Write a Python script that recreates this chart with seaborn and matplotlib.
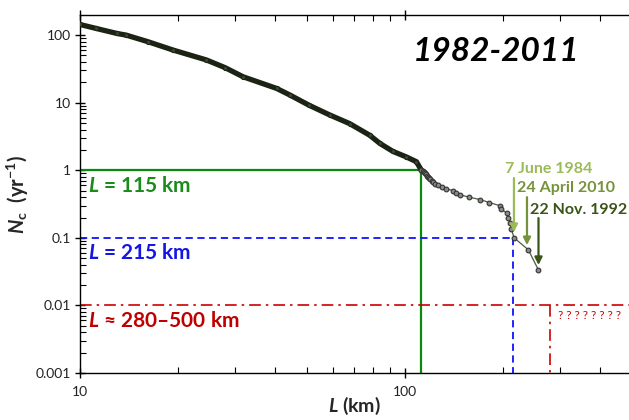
import numpy as np
import pandas as pd
import matplotlib
matplotlib.use("Agg")
import matplotlib.pyplot as plt
import matplotlib.ticker as mticker
import seaborn as sns

# --------------------------------------------
# data
# --------------------------------------------
# dense part of the curve (L in km, Nc in 1/yr)
L_main = [10, 11.2, 13.0, 13.9, 16.2, 19.4, 24.5, 28.0, 31.8, 40.3, 44.3,
          50.7, 58.7, 67.7, 78.0, 83.8, 92.0, 101, 108.6, 112.5]
N_main = [144, 126, 106, 100, 80, 60, 43, 33, 24.2, 16.3, 13.0,
          9.2, 6.6, 4.9, 3.3, 2.5, 1.9, 1.58, 1.34, 1.0]

# tail: the 30 largest events
L_tail = [112.5, 113.5, 114.3, 115.2, 116, 117, 117.8, 119, 120, 121.2,
          122.5, 124, 126.5, 130, 134, 141, 144, 148, 158, 171,
          182, 196, 198, 206, 208, 211, 213, 217, 240, 258]
N_tail = [1.0, 0.967, 0.933, 0.9, 0.867, 0.833, 0.8, 0.767, 0.733, 0.7,
          0.667, 0.633, 0.6, 0.567, 0.533, 0.5, 0.467, 0.433, 0.4, 0.367,
          0.333, 0.3, 0.267, 0.233, 0.2, 0.167, 0.133, 0.1, 0.0667, 0.0333]

# threshold lines
L_green, N_green = 112, 1.0
L_blue, N_blue = 215, 0.1
L_red, N_red = 280, 0.01

# dated events (arrow x, arrow top, arrow tip, label x, label y)
events = ["7 June 1984", "24 April 2010", "22 Nov. 1992"]
event_colors = ["#9bbb59", "#76923c", "#3b5417"]
arrow_L = [216.8, 237.8, 258]
arrow_top = [0.767, 0.40, 0.196]
arrow_tip = [0.122, 0.078, 0.0396]
label_L = [203, 221, 242.5]
label_N = [1.04, 0.546, 0.258]

y_ticks = [0.001, 0.01, 0.1, 1, 10, 100]
y_ticklabels = ["0.001", "0.01", "0.1", "1", "10", "100"]
x_ticks = [10, 100]
x_ticklabels = ["10", "100"]

# --------------------------------------------
# style
# --------------------------------------------
sns.set_style("ticks")
plt.rcParams["font.family"] = ["Lato", "DejaVu Sans"]
plt.rcParams["mathtext.fontset"] = "custom"
plt.rcParams["mathtext.it"] = "Lato:italic:bold"
plt.rcParams["mathtext.rm"] = "Lato:bold"
plt.rcParams["mathtext.bf"] = "Lato:bold"

fig = plt.figure(figsize=(6.29, 4.2), dpi=100)
ax = fig.add_axes([0.127, 0.112, 0.873, 0.852])

df_main = pd.DataFrame({"L": L_main, "N": N_main})
df_tail = pd.DataFrame({"L": L_tail, "N": N_tail})

# threshold lines
ax.plot([10, L_green], [N_green, N_green], color="#0a8a0a", lw=1.6, zorder=2)
ax.plot([L_green, L_green], [N_green, 0.001], color="#0a8a0a", lw=1.6, zorder=2)
ax.plot([10, L_blue], [N_blue, N_blue], color="#1010ff", lw=1.3,
        dashes=(4, 2.5), zorder=2)
ax.plot([L_blue, L_blue], [N_blue, 0.001], color="#1010ff", lw=1.3,
        dashes=(4, 2.5), zorder=2)
ax.plot([10, 600], [N_red, N_red], color="#cc0000", lw=1.2,
        dashes=(7, 3, 1.5, 3), zorder=2)
ax.plot([L_red, L_red], [N_red, 0.001], color="#cc0000", lw=1.2,
        dashes=(7, 3, 1.5, 3), zorder=2)

# curve
sns.lineplot(data=df_main, x="L", y="N", ax=ax, color="#1b2414", lw=3.8,
             sort=False, estimator=None, solid_capstyle="round", zorder=3)
sns.lineplot(data=df_main, x="L", y="N", ax=ax, color="#2d3a22", lw=0,
             marker="o", markersize=3.0, markerfacecolor="#3c4634",
             markeredgecolor="#1b2414", sort=False, estimator=None, zorder=4)
sns.lineplot(data=df_tail, x="L", y="N", ax=ax, color="#4b5e3a", lw=0.9,
             marker="o", markersize=3.4, markerfacecolor="#8a8a8a",
             markeredgecolor="#333333", markeredgewidth=0.8,
             sort=False, estimator=None, zorder=4)

# labels on the left
ax.text(10.6, 0.58, "$L$ = 115 km", color="#1a8c1a", fontsize=15,
        fontweight="bold", va="center", ha="left")
ax.text(10.6, 0.0596, "$L$ = 215 km", color="#1515e6", fontsize=15,
        fontweight="bold", va="center", ha="left")
ax.text(10.6, 0.00587, "$L$ \u2248 280\u2013500 km", color="#c00000",
        fontsize=15, fontweight="bold", va="center", ha="left")
ax.text(296, 0.0072, "? ? ? ? ? ? ? ?", color="#cc0000", fontsize=8.5,
        va="center", ha="left")

# dated events
for name, col, xa, yt, yb, xl, yl in zip(events, event_colors, arrow_L,
                                         arrow_top, arrow_tip, label_L, label_N):
    ax.annotate("", xy=(xa, yb), xytext=(xa, yt),
                arrowprops=dict(arrowstyle="-|>", color=col, lw=1.6,
                                mutation_scale=11, shrinkA=0, shrinkB=0),
                zorder=5)
    ax.text(xl, yl, name, color=col, fontsize=11.5, fontweight="bold",
            va="center", ha="left")

ax.text(0.758, 0.897, "1982-2011", transform=ax.transAxes, fontsize=24,
        fontweight="bold", style="italic", ha="center", va="center",
        color="black")

# axes
ax.set_xscale("log")
ax.set_yscale("log")
ax.set_xlim(10, 490)
ax.set_ylim(0.001, 198)

ax.xaxis.set_major_locator(mticker.FixedLocator(x_ticks))
ax.xaxis.set_major_formatter(mticker.FixedFormatter(x_ticklabels))
ax.yaxis.set_major_locator(mticker.FixedLocator(y_ticks))
ax.yaxis.set_major_formatter(mticker.FixedFormatter(y_ticklabels))
ax.xaxis.set_minor_locator(mticker.LogLocator(base=10, subs=np.arange(2, 10)))
ax.yaxis.set_minor_locator(mticker.LogLocator(base=10, subs=np.arange(2, 10)))
ax.xaxis.set_minor_formatter(mticker.NullFormatter())
ax.yaxis.set_minor_formatter(mticker.NullFormatter())

ax.tick_params(which="major", direction="inout", length=7, width=1,
               labelsize=10, top=True, color="black", labelcolor="#222222")
ax.tick_params(which="minor", direction="in", length=4, width=0.8,
               top=True, color="black")
ax.tick_params(axis="x", which="major", pad=6)
ax.tick_params(axis="y", which="major", pad=3)

for side in ["left", "bottom", "top"]:
    ax.spines[side].set_color("black")
    ax.spines[side].set_linewidth(1.0)
ax.spines["right"].set_visible(False)

ax.set_xlabel("$L$ (km)", fontsize=14, fontweight="bold", labelpad=-2)
ax.set_ylabel("$N$$_\\mathregular{c}$  (yr$^{\\mathregular{\u22121}}$)",
              fontsize=14.5, fontweight="bold", labelpad=3)

fig.savefig("out.png", dpi=100)
